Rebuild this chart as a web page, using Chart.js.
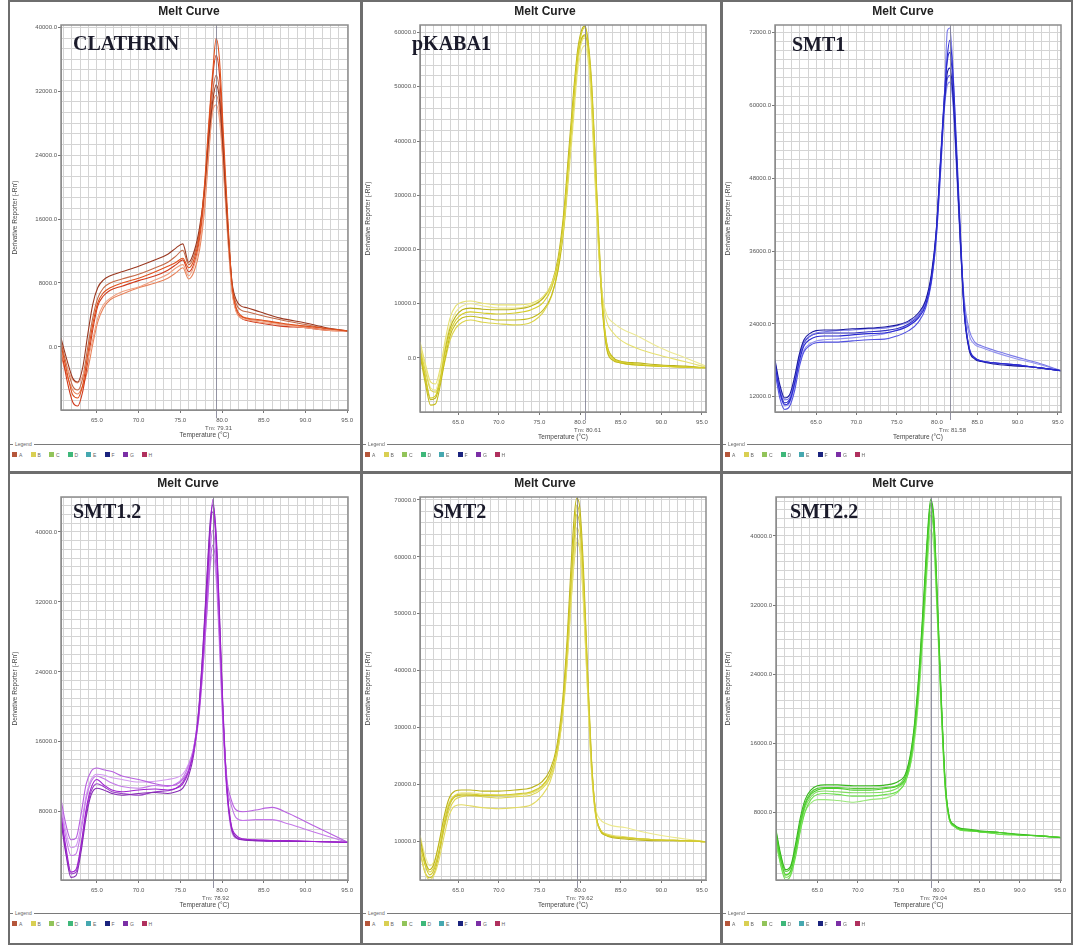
<!DOCTYPE html>
<html>
<head>
<meta charset="utf-8">
<script src="https://cdn.jsdelivr.net/npm/chart.js@4.4.1/dist/chart.umd.min.js"></script>
<style>
  body { margin: 0; width: 1073px; height: 945px; position: relative; overflow: hidden; background: #fff;
         font-family: "Liberation Sans", Arial, sans-serif; }
  .frame { position: absolute; box-sizing: border-box; border: 2px solid #6e6e6e; background: #fff; }
  canvas { position: absolute; }
  .ttl { position: absolute; width: 120px; text-align: center; font: bold 12px "Liberation Sans", Arial; line-height: 14px; color: #222; }
  .gene { position: absolute; font: bold 20px "Liberation Serif", "Times New Roman", serif; line-height: 20px; color: #1b1b2b; white-space: nowrap; }
  .lgline { position: absolute; height: 1px; background: #7a7a7a; }
  .lgtxt { position: absolute; font-size: 5px; line-height: 6px; color: #666; }
  .lgsq { position: absolute; width: 5px; height: 5px; }
</style>
</head>
<body>
<script>
// melt curve data, one array per well, derivative reporter values
const clathrinTemp = [60.7, 61.4, 62.1, 62.7, 63.3, 63.9, 64.5, 65.1, 65.8, 66.6, 68.0, 70.0, 72.0, 73.5, 74.5, 75.3, 76.0, 76.7, 77.3, 77.9, 78.4, 78.9, 79.3, 79.7, 80.2, 80.7, 81.2, 81.7, 82.3, 83.0, 84.5, 87.0, 90.0, 92.5, 95.1];
const clathrinWells = [
  [300, -3100, -6000, -6400, -4800, -1000, 2800, 5500, 6800, 7400, 8000, 8600, 9400, 10100, 10600, 11100, 9900, 11100, 14000, 20300, 27800, 34600, 38600, 35900, 25900, 15900, 7800, 4900, 3900, 3600, 3400, 3000, 2600, 2300, 2000],
  [1100, -1600, -3900, -4400, -2600, 1500, 5300, 7400, 8400, 8900, 9400, 10100, 10900, 11600, 12400, 12900, 10600, 12100, 14900, 19600, 25900, 30900, 32800, 30900, 23400, 14600, 8100, 5900, 5100, 4900, 4400, 3600, 3000, 2400, 2000],
  [-600, -2600, -4100, -4500, -3600, -1600, 900, 3600, 5300, 6100, 6900, 7500, 8400, 9100, 9900, 10300, 8900, 10300, 12800, 17800, 24600, 29600, 30300, 28400, 21500, 13400, 6900, 4400, 3600, 3400, 3100, 2800, 2400, 2100, 2000],
  [-100, -4100, -6900, -7400, -5600, -1900, 2100, 5100, 6400, 7100, 7600, 8300, 8900, 9600, 10300, 10900, 9400, 10600, 13400, 19000, 27100, 34000, 36500, 34000, 24600, 14900, 7400, 4600, 3600, 3300, 3000, 2600, 2400, 2100, 2000],
  [600, -2400, -4900, -5400, -3900, -100, 3600, 6100, 7400, 8000, 8500, 9100, 9900, 10600, 11400, 12100, 10300, 11600, 14400, 19900, 26500, 32100, 34000, 31900, 24000, 15300, 7900, 5400, 4600, 4400, 4000, 3400, 2800, 2300, 2000],
  [-1100, -3500, -5400, -5900, -4900, -2900, 300, 3100, 4900, 5900, 6600, 7400, 8000, 8600, 9300, 9900, 8500, 9600, 12100, 17100, 24000, 30300, 31500, 29600, 22100, 13900, 7100, 4500, 3800, 3500, 3300, 2900, 2500, 2100, 2000]
];

const pkabaTemp = [60.3, 61.0, 61.6, 62.2, 62.8, 63.4, 64.0, 64.7, 65.5, 66.5, 68.0, 70.0, 72.0, 74.0, 75.5, 76.5, 77.3, 78.0, 78.6, 79.2, 79.7, 80.2, 80.6, 81.0, 81.4, 81.8, 82.3, 82.8, 83.3, 84.0, 85.0, 87.0, 90.0, 93.0, 95.5];
const pkabaWells = [
  [1500, -3700, -7400, -7000, -3700, 1100, 4800, 7000, 8100, 8500, 8300, 8100, 8300, 8900, 10300, 12900, 17700, 25800, 36500, 47600, 55900, 60000, 60900, 57700, 50400, 38400, 21800, 8900, 2400, 0, -700, -1100, -1500, -1700, -1800],
  [3000, -1300, -4400, -4800, -1800, 3300, 7400, 9600, 10300, 10500, 10100, 9800, 9800, 10100, 11400, 13700, 17700, 24500, 34700, 45400, 54100, 58300, 59000, 55900, 47600, 34700, 19900, 10700, 6600, 4800, 3300, 1800, 400, -700, -1700],
  [600, -5000, -8700, -8500, -5000, 0, 4100, 6300, 7400, 7700, 7400, 7000, 7000, 7400, 8900, 11600, 16200, 24000, 34700, 45800, 54600, 59000, 59600, 56800, 49100, 36500, 20800, 7900, 1500, -400, -900, -1300, -1500, -1700, -1800],
  [1800, -2600, -5900, -6300, -4100, -400, 3300, 5500, 6600, 7000, 6600, 6300, 6100, 6600, 8500, 11400, 16600, 25100, 35600, 46700, 55000, 58700, 59400, 56500, 48500, 35600, 20300, 8500, 1800, -200, -900, -1300, -1500, -1700, -1800],
  [1100, -4100, -7700, -7400, -4100, 1500, 5500, 7700, 8900, 9200, 9000, 8900, 9000, 9600, 11100, 13700, 18500, 26900, 38000, 49100, 56800, 60500, 61200, 58300, 51300, 39300, 22700, 9200, 2600, 200, -600, -900, -1300, -1500, -1800],
  [2400, -1800, -5500, -5900, -2600, 2400, 6100, 8500, 9600, 10000, 9600, 9200, 9200, 9800, 11100, 13100, 17000, 23600, 33200, 43900, 52800, 56800, 57600, 54600, 46100, 33800, 19000, 11100, 7900, 6600, 5500, 4100, 1800, 0, -1500]
];

const smt1Temp = [59.9, 60.5, 61.1, 61.7, 62.3, 62.9, 63.5, 64.2, 65.0, 66.0, 67.5, 69.5, 71.5, 73.5, 75.0, 76.5, 77.7, 78.6, 79.3, 79.9, 80.4, 80.9, 81.3, 81.6, 82.0, 82.4, 82.9, 83.4, 84.0, 84.7, 85.5, 87.0, 89.5, 92.5, 95.4];
const smt1Wells = [
  [17300, 12800, 10700, 11200, 14000, 17800, 20400, 21400, 21900, 22000, 22000, 22200, 22400, 22500, 22900, 23700, 25000, 27100, 31200, 38600, 49300, 60800, 68200, 70700, 64900, 54300, 39500, 26300, 20100, 18400, 17900, 17600, 17300, 16800, 16300],
  [18100, 14000, 11800, 12300, 15100, 18900, 21400, 22400, 22900, 23000, 23000, 23200, 23300, 23500, 23800, 24500, 25800, 27900, 32100, 39100, 49600, 60000, 65400, 66100, 61700, 51800, 37800, 25500, 19700, 18200, 17800, 17400, 17100, 16800, 16300],
  [16100, 11800, 9900, 10400, 12800, 16800, 19400, 20400, 20900, 21000, 21000, 21200, 21400, 21500, 22000, 22900, 24300, 26600, 30700, 37800, 48000, 59200, 64400, 64900, 60800, 51300, 37800, 26000, 20100, 18400, 17900, 17600, 17300, 16800, 16300],
  [16800, 13500, 11500, 11800, 14500, 18100, 21000, 22000, 22500, 22700, 22900, 23000, 23200, 23300, 23700, 24300, 25500, 27600, 31600, 38500, 49000, 60500, 72300, 72700, 65800, 52600, 37800, 27900, 23000, 21000, 20400, 19700, 18700, 17600, 16300],
  [17800, 13200, 11000, 11500, 14300, 18400, 20900, 21900, 22400, 22500, 22500, 22500, 22700, 22900, 23200, 24000, 25300, 27500, 31600, 39000, 50100, 61200, 67400, 68700, 63300, 52600, 38500, 26000, 19900, 18400, 17900, 17600, 17300, 16800, 16300],
  [16400, 12500, 10500, 11000, 13500, 17300, 19700, 20700, 21200, 21400, 21500, 21700, 22000, 22400, 23000, 23800, 25000, 27000, 30900, 37800, 47700, 58900, 63300, 63800, 60000, 50100, 37000, 27100, 22200, 20600, 20100, 19400, 18400, 17400, 16300]
];

const smt12Temp = [60.7, 61.3, 61.9, 62.5, 63.1, 63.7, 64.3, 65.0, 65.8, 66.8, 68.0, 70.0, 72.0, 73.5, 74.5, 75.3, 76.0, 76.6, 77.2, 77.7, 78.2, 78.6, 78.9, 79.3, 79.7, 80.1, 80.6, 81.1, 81.7, 82.5, 84.0, 86.0, 88.0, 91.0, 95.1];
const smt12Wells = [
  [7700, 3900, 1100, 1400, 4200, 8200, 10700, 11700, 11100, 10500, 10300, 10500, 10600, 10500, 10700, 11200, 12600, 14900, 19100, 25400, 33400, 40200, 43700, 39100, 29900, 19700, 10500, 6500, 5300, 4900, 4800, 4700, 4700, 4600, 4500],
  [9400, 6500, 4800, 5000, 7700, 11100, 12600, 13000, 12800, 12600, 12100, 11700, 11200, 11000, 11100, 11700, 12800, 14900, 18500, 24200, 31100, 36800, 38500, 35700, 27700, 18500, 11700, 9400, 8200, 8000, 8200, 8500, 7800, 6400, 4500],
  [6900, 3100, 500, 700, 3400, 7300, 9900, 10700, 10500, 10100, 9900, 10100, 10200, 10100, 10300, 10700, 12100, 14500, 19400, 26500, 35100, 41400, 43100, 39700, 30500, 20200, 10700, 6400, 5100, 4800, 4700, 4700, 4600, 4600, 4500],
  [8200, 5000, 3000, 3200, 5700, 9400, 11400, 12100, 11800, 11300, 10900, 10700, 11000, 10900, 11200, 11900, 13300, 15300, 19400, 25100, 32200, 38200, 40200, 36800, 28600, 19100, 11100, 8800, 7300, 7000, 7100, 7100, 6600, 5700, 4500],
  [7300, 3400, 900, 1100, 3900, 7800, 10300, 11200, 10900, 10300, 10100, 9900, 10300, 10400, 10700, 11400, 12800, 15100, 19700, 26300, 34500, 40800, 42300, 38500, 29400, 19400, 10300, 6200, 5000, 4800, 4700, 4600, 4600, 4600, 4500],
  [8800, 5700, 3900, 4100, 6400, 9800, 11700, 12300, 12200, 11900, 11700, 11400, 11500, 11700, 11900, 12300, 13500, 15300, 19000, 24200, 30900, 36200, 37400, 34500, 26700, 17600, 9800, 5900, 5000, 4800, 4800, 4700, 4600, 4600, 4500]
];

const smt2Temp = [60.3, 60.9, 61.5, 62.1, 62.7, 63.3, 63.9, 64.6, 65.4, 66.5, 68.0, 70.0, 72.0, 74.0, 75.3, 76.3, 77.1, 77.8, 78.4, 78.9, 79.3, 79.6, 80.0, 80.4, 80.9, 81.4, 81.9, 82.5, 83.2, 84.0, 85.5, 87.5, 90.0, 93.0, 95.5];
const smt2Wells = [
  [9500, 6000, 4200, 5400, 8900, 13500, 16700, 18100, 18400, 18400, 18200, 18200, 18400, 18800, 19800, 21900, 25800, 32800, 43700, 56000, 64700, 69100, 66500, 56800, 40200, 24400, 15300, 12100, 11200, 10900, 10700, 10500, 10300, 10200, 10000],
  [8600, 4700, 3300, 4400, 7200, 11200, 14700, 16300, 16500, 16300, 16000, 15800, 16000, 16500, 18100, 20500, 24700, 31700, 41900, 53300, 61600, 65100, 63000, 54200, 38400, 23500, 14900, 12100, 11400, 11100, 10900, 10500, 10300, 10200, 10000],
  [10700, 6800, 5100, 6500, 10300, 14700, 17700, 18900, 19100, 19100, 18900, 18900, 19100, 19500, 20500, 22600, 26500, 34000, 45400, 58600, 67400, 70300, 68200, 58600, 41000, 24700, 15300, 11900, 11100, 10700, 10500, 10300, 10200, 10200, 10000],
  [11200, 7700, 5800, 6800, 10000, 14200, 17000, 18200, 18600, 18600, 18400, 18200, 18200, 18600, 19500, 21600, 25300, 31700, 41600, 52400, 60300, 63300, 61200, 52800, 37500, 23000, 16000, 13900, 13200, 12800, 12500, 11800, 11100, 10500, 10000],
  [8200, 4700, 3700, 4700, 8200, 12800, 16300, 17900, 18200, 18200, 18100, 18100, 18200, 18600, 19600, 21600, 25400, 32300, 42800, 54500, 63300, 67400, 65100, 56000, 39300, 24000, 15100, 12100, 11200, 10900, 10700, 10500, 10300, 10200, 10000],
  [10000, 6500, 4700, 5800, 8600, 12500, 15600, 17400, 17900, 18100, 17900, 17700, 17900, 18200, 19300, 21200, 24900, 31400, 41000, 52100, 59500, 62600, 60900, 52400, 37000, 22600, 14700, 11900, 11200, 10900, 10700, 10500, 10300, 10200, 10000]
];

const smt22Temp = [59.9, 60.5, 61.1, 61.7, 62.3, 62.9, 63.5, 64.2, 65.0, 66.0, 67.5, 69.5, 71.5, 73.5, 75.0, 75.9, 76.6, 77.2, 77.7, 78.2, 78.6, 79.0, 79.4, 79.8, 80.3, 80.8, 81.3, 81.9, 82.6, 83.5, 85.0, 87.5, 90.0, 92.5, 95.1];
const smt22Wells = [
  [5400, 2500, 800, 1200, 3500, 6600, 8900, 10100, 10600, 10800, 10800, 10600, 10600, 10800, 11100, 12000, 14700, 19300, 25100, 32600, 39000, 43600, 41300, 32600, 21000, 11200, 7400, 6500, 6100, 6000, 5800, 5700, 5400, 5300, 5100],
  [6000, 3100, 1400, 1800, 4300, 7400, 9500, 10600, 11100, 11200, 11200, 11100, 11100, 11200, 11600, 12500, 15300, 20100, 26200, 33800, 40100, 44200, 42100, 33500, 21600, 11600, 7500, 6600, 6200, 6100, 5900, 5700, 5500, 5300, 5100],
  [4900, 1800, 200, 700, 2800, 5800, 8100, 9500, 10100, 10200, 10100, 9900, 9900, 10100, 10500, 11600, 14100, 18500, 24300, 31400, 37800, 42400, 40100, 31700, 20500, 10900, 7200, 6400, 6000, 5900, 5800, 5500, 5400, 5300, 5100],
  [4300, 2000, 700, 1200, 3100, 6000, 8100, 9100, 9500, 9500, 9400, 9200, 9500, 9700, 10400, 11600, 13900, 17800, 23400, 30300, 36600, 40700, 38600, 30900, 19900, 10600, 7200, 6400, 6100, 5900, 5800, 5500, 5400, 5300, 5100],
  [5800, 2800, 1200, 1600, 3900, 6900, 9100, 10300, 10800, 10900, 10900, 10800, 10800, 10900, 11200, 12300, 15000, 19700, 25700, 33200, 39500, 43800, 41800, 33100, 21300, 11300, 7400, 6500, 6100, 6000, 5800, 5700, 5400, 5300, 5100],
  [5100, 2300, 500, 900, 3100, 6200, 8600, 9800, 10400, 10500, 10400, 10300, 10300, 10400, 10900, 11800, 14300, 18700, 24500, 31900, 38400, 42800, 40700, 32100, 20800, 11100, 7300, 6400, 6000, 5900, 5800, 5500, 5400, 5300, 5100]
];

const geneNames = ['CLATHRIN', 'pKABA1', 'SMT1', 'SMT1.2', 'SMT2', 'SMT2.2'];
const tmValues = [79.31, 80.61, 81.58, 78.92, 79.62, 79.04];
const tempLabels = [65, 70, 75, 80, 85, 90, 95];
const wellLetters = ['A', 'B', 'C', 'D', 'E', 'F', 'G', 'H'];

const wellColors = ['#b5563a', '#d9cf52', '#92c45a', '#3fb87a', '#45a8b0', '#1a237e', '#7b2fa6', '#b0305e'];
const curveColors = [
  ['#e0501c', '#9a3820', '#f0a080', '#d03a1c', '#c46a48', '#e8825a'],
  ['#d6ce2a', '#e6e070', '#c4bc1c', '#dcd44c', '#bab21a', '#ece894'],
  ['#2a2ad2', '#1a1aa0', '#5252e2', '#7a7ae8', '#3232c4', '#9494f0'],
  ['#a020d0', '#b860e0', '#862ab4', '#c478e8', '#9a40c8', '#d49af0'],
  ['#d2ca28', '#e2da62', '#bcb41c', '#ece88c', '#c8c030', '#dcd450'],
  ['#4cd02c', '#38b81e', '#6ee050', '#9ae87a', '#58c83a', '#80dc60']
];

// page geometry of each panel
const layouts = [
  { fx: 8,   fy: 0,   fw: 354, fh: 473, cx: 9,   cy: 1,   cw: 352, ch: 439, axisW: 52, padR: 13, tx: 189, ty: 11,  gx: 73,  gy: 33,  ly: 444 },
  { fx: 361, fy: 0,   fw: 361, fh: 473, cx: 362, cy: 1,   cw: 359, ch: 441, axisW: 58, padR: 15, tx: 545, ty: 11,  gx: 412, gy: 33,  ly: 444 },
  { fx: 721, fy: 0,   fw: 352, fh: 473, cx: 722, cy: 1,   cw: 350, ch: 441, axisW: 53, padR: 11, tx: 903, ty: 11,  gx: 792, gy: 34,  ly: 444 },
  { fx: 8,   fy: 472, fw: 354, fh: 473, cx: 9,   cy: 473, cw: 352, ch: 437, axisW: 52, padR: 13, tx: 188, ty: 483, gx: 73,  gy: 501, ly: 913 },
  { fx: 361, fy: 472, fw: 361, fh: 473, cx: 362, cy: 473, cw: 359, ch: 437, axisW: 58, padR: 15, tx: 545, ty: 483, gx: 433, gy: 501, ly: 913 },
  { fx: 721, fy: 472, fw: 352, fh: 473, cx: 722, cy: 473, cw: 350, ch: 437, axisW: 54, padR: 11, tx: 903, ty: 483, gx: 790, gy: 501, ly: 913 }
];

// axis ranges of each panel
const axes = [
  { xMin: 60.7, xMax: 95.1, yMin: -7900, yMax: 40300, labelStep: 8000,  gridStep: 8000 / 6 },
  { xMin: 60.3, xMax: 95.5, yMin: -9960, yMax: 61400, labelStep: 10000, gridStep: 2000 },
  { xMin: 59.9, xMax: 95.4, yMin: 9500,  yMax: 73200, labelStep: 12000, gridStep: 1500 },
  { xMin: 60.7, xMax: 95.1, yMin: 200,   yMax: 44000, labelStep: 8000,  gridStep: 1000 },
  { xMin: 60.3, xMax: 95.5, yMin: 3300,  yMax: 70500, labelStep: 10000, gridStep: 2000 },
  { xMin: 59.9, xMax: 95.1, yMin: 200,   yMax: 44500, labelStep: 8000,  gridStep: 1000 }
];

const temps = [clathrinTemp, pkabaTemp, smt1Temp, smt12Temp, smt2Temp, smt22Temp];
const wells = [clathrinWells, pkabaWells, smt1Wells, smt12Wells, smt2Wells, smt22Wells];

Chart.defaults.font.family = '"Liberation Sans", Arial, sans-serif';

const tmPlugin = {
  id: 'tmLine',
  afterDatasetsDraw(chart, args, opts) {
    const { ctx, chartArea, scales } = chart;
    const px = Math.round(scales.x.getPixelForValue(opts.tm)) + 0.5;
    ctx.save();
    ctx.strokeStyle = 'rgba(120,120,140,0.8)';
    ctx.lineWidth = 1;
    ctx.beginPath();
    ctx.moveTo(px, chartArea.top);
    ctx.lineTo(px, chartArea.bottom + 8);
    ctx.stroke();
    ctx.fillStyle = '#555';
    ctx.font = '6px "Liberation Sans", Arial';
    ctx.textAlign = 'center';
    ctx.textBaseline = 'middle';
    ctx.fillText('Tm: ' + opts.tm.toFixed(2), px + 2, chartArea.bottom + 18);
    ctx.restore();
  }
};

const framePlugin = {
  id: 'plotFrame',
  afterDraw(chart) {
    const { ctx, chartArea: a } = chart;
    ctx.save();
    ctx.strokeStyle = '#8c8c8c';
    ctx.lineWidth = 1.5;
    ctx.strokeRect(a.left, a.top, a.right - a.left, a.bottom - a.top);
    ctx.restore();
  }
};

function addDiv(cls, css, text) {
  const d = document.createElement('div');
  d.className = cls;
  Object.assign(d.style, css);
  if (text) d.textContent = text;
  document.body.appendChild(d);
  return d;
}

// grid ticks at whole multiples of the step, chart.js would stretch the step otherwise
function stepTicks(min, max, step) {
  const t = [];
  for (let k = Math.ceil(min / step - 1e-9); k * step <= max + 1e-9; k++) t.push({ value: k * step });
  return t;
}

function drawPanel(i) {
  const L = layouts[i];
  const A = axes[i];

  addDiv('frame', { left: L.fx + 'px', top: L.fy + 'px', width: L.fw + 'px', height: L.fh + 'px' });

  const canvas = document.createElement('canvas');
  canvas.width = L.cw;
  canvas.height = L.ch;
  canvas.style.left = L.cx + 'px';
  canvas.style.top = L.cy + 'px';
  document.body.appendChild(canvas);

  const isLabel = v => Math.abs(v / A.labelStep - Math.round(v / A.labelStep)) < 1e-6;
  const isX = v => tempLabels.some(t => Math.abs(t - v) < 1e-6);

  const datasets = wells[i].map((w, k) => ({
    data: w.map((y, j) => ({ x: temps[i][j], y: y })),
    borderColor: curveColors[i][k],
    borderWidth: 1.1,
    pointRadius: 0,
    fill: false,
    cubicInterpolationMode: 'monotone'
  }));

  new Chart(canvas, {
    type: 'line',
    data: { datasets },
    options: {
      responsive: false,
      animation: false,
      devicePixelRatio: 1,
      layout: { padding: { left: 0, top: 24, right: L.padR, bottom: 0 } },
      plugins: {
        legend: { display: false },
        tooltip: { enabled: false },
        tmLine: { tm: tmValues[i] }
      },
      scales: {
        x: {
          type: 'linear',
          min: A.xMin,
          max: A.xMax,
          afterFit: s => { s.height = 30; },
          afterBuildTicks: s => { s.ticks = stepTicks(A.xMin, A.xMax, 1); },
          grid: { color: '#d4d4d4', tickLength: 3, tickColor: c => (c.tick && isX(c.tick.value)) ? '#777' : 'rgba(0,0,0,0)' },
          border: { color: '#8c8c8c' },
          ticks: {
            autoSkip: false, maxRotation: 0, padding: 4,
            color: '#555', font: { size: 6 },
            callback: v => isX(v) ? Number(v).toFixed(1) : ''
          },
          title: { display: true, text: 'Temperature (°C)', color: '#444', font: { size: 6.5 }, padding: { top: 0, bottom: 1 } }
        },
        y: {
          min: A.yMin,
          max: A.yMax,
          afterFit: s => { s.width = L.axisW; },
          afterBuildTicks: s => { s.ticks = stepTicks(A.yMin, A.yMax, A.gridStep); },
          grid: { color: '#d4d4d4', tickLength: 3, tickColor: c => (c.tick && isLabel(c.tick.value)) ? '#777' : 'rgba(0,0,0,0)' },
          border: { color: '#8c8c8c' },
          ticks: {
            autoSkip: false, padding: 1,
            color: '#555', font: { size: 6 },
            callback: v => isLabel(v) ? (Math.round(v / A.labelStep) * A.labelStep).toFixed(1) : ''
          },
          title: { display: true, text: "Derivative Reporter (-Rn')", color: '#444', font: { size: 6.5 }, padding: { top: 2, bottom: 0 } }
        }
      }
    },
    plugins: [tmPlugin, framePlugin]
  });

  addDiv('ttl', { left: (L.tx - 60) + 'px', top: (L.ty - 7) + 'px' }, 'Melt Curve');
  addDiv('gene', { left: L.gx + 'px', top: L.gy + 'px' }, geneNames[i]);

  // legend group box
  addDiv('lgline', { left: (L.fx + 26) + 'px', top: L.ly + 'px', width: (L.fw - 28) + 'px' });
  addDiv('lgline', { left: (L.fx + 2) + 'px', top: L.ly + 'px', width: '3px' });
  addDiv('lgtxt', { left: (L.fx + 7) + 'px', top: (L.ly - 3) + 'px' }, 'Legend');
  wellLetters.forEach((w, k) => {
    const x = L.fx + 4 + k * 18.5;
    addDiv('lgsq', { left: x + 'px', top: (L.ly + 8) + 'px', background: wellColors[k] });
    addDiv('lgtxt', { left: (x + 7) + 'px', top: (L.ly + 7.5) + 'px' }, w);
  });
}

for (let i = 0; i < 6; i++) drawPanel(i);
</script>
</body>
</html>
